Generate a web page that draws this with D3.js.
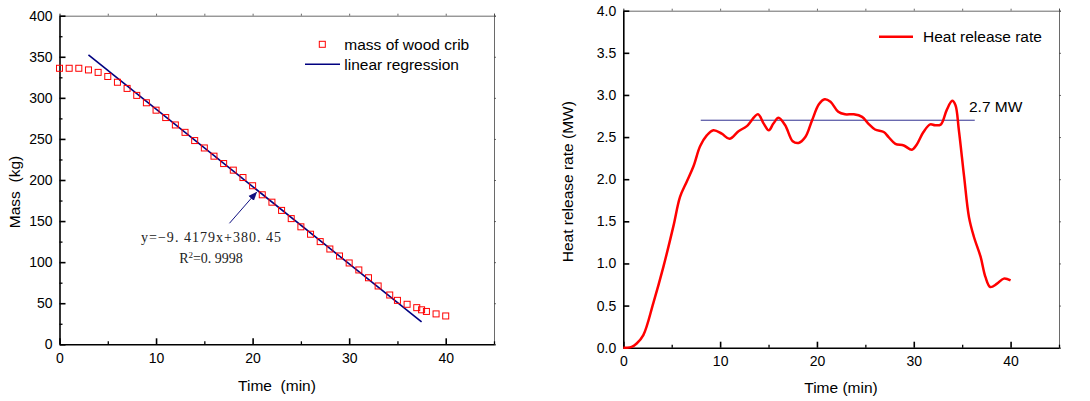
<!DOCTYPE html>
<html>
<head>
<meta charset="utf-8">
<script src="https://cdn.jsdelivr.net/npm/d3@7"></script>
<style>
    body { margin: 0; background: #fff; }
    svg { display: block; font-family: "Liberation Sans", Arial, sans-serif; }
    .axis text { font-size: 14px; fill: #000; }
</style>
</head>
<body>
<svg id="chart" width="1090" height="401"></svg>
<script>
'use strict';

// left chart: mass of wood crib
var massTime = [0, 1, 2, 3, 4, 5, 6, 7, 8, 9, 10, 11, 12, 13, 14, 15, 16, 17, 18, 19, 20,
    21, 22, 23, 24, 25, 26, 27, 28, 29, 30, 31, 32, 33, 34.2, 35, 36, 37, 37.5, 38, 39, 40];
var massValue = [336, 336, 336, 334, 331, 326, 319, 311.5, 303, 294, 285, 276, 267, 258, 248, 239, 229, 220, 212, 203, 193,
    182, 173, 163, 153, 143, 134, 125, 116, 107.5, 99, 90.5, 81, 71, 60, 53.5, 48.7, 44.6, 42, 40, 37, 34.5];
var regSlope = -9.4179;
var regIntercept = 380.45;
var regRange = [3, 37.5];
var arrowFrom = [17.6, 147.3];
var arrowTo = [20.4, 185];

// right chart: heat release rate
var hrrTime = [0, 0.35, 0.86, 1.38, 2.07, 3.1, 4.14, 5.17, 5.86, 6.55, 7.24, 7.93, 8.62, 9.31, 10.17, 10.97,
    11.9, 12.76, 13.9, 14.5, 15.03, 15.5, 16.03, 16.72, 17.5, 18.1, 18.8, 19.5, 20.2, 20.8, 21.4, 22.2,
    22.9, 23.8, 24.66, 25.3, 26.0, 26.9, 27.4, 28.1, 28.97, 29.8, 30.3, 31.0, 31.7, 32.2, 32.8, 33.4,
    33.97, 34.3, 34.66, 35.2, 35.7, 36.2, 36.9, 37.4, 37.9, 38.6, 39.3, 40];
var hrrValue = [0, 0, 0.01, 0.05, 0.15, 0.53, 0.96, 1.44, 1.79, 1.97, 2.15, 2.39, 2.52, 2.58, 2.54, 2.48,
    2.57, 2.63, 2.77, 2.66, 2.58, 2.66, 2.73, 2.64, 2.45, 2.43, 2.50, 2.70, 2.89, 2.95, 2.92, 2.80,
    2.77, 2.77, 2.74, 2.66, 2.59, 2.56, 2.50, 2.42, 2.40, 2.35, 2.41, 2.56, 2.65, 2.64, 2.65, 2.82,
    2.93, 2.88, 2.58, 2.03, 1.55, 1.32, 1.08, 0.84, 0.72, 0.76, 0.82, 0.80];
var avgHrr = 2.7;
var avgRange = [8, 36.3];

var svg = d3.select("#chart");

svg.append("defs").append("marker")
    .attr("id", "arrowHead")
    .attr("viewBox", "0 0 10 10")
    .attr("refX", 9).attr("refY", 5)
    .attr("markerWidth", 9).attr("markerHeight", 9)
    .attr("markerUnits", "userSpaceOnUse")
    .attr("orient", "auto")
    .append("path")
    .attr("d", "M0,1 L10,5 L0,9 Z")
    .attr("fill", "#101080");

function drawFrame(g, x, y, opts) {
    var x0 = x.range()[0], x1 = x.range()[1];
    var y0 = y.range()[0], y1 = y.range()[1];

    //thin top and right border with small outward ticks
    g.append("g")
        .attr("transform", "translate(0," + y1 + ")")
        .call(d3.axisTop(x).tickValues(opts.xMinor.concat(opts.xMajor)).tickSize(2).tickFormat(""))
        .call(function(a) { a.selectAll("line,path").attr("stroke", "#444").attr("stroke-width", 0.8); });
    g.append("g")
        .attr("transform", "translate(" + x1 + ",0)")
        .call(d3.axisRight(y).tickValues(opts.yMajor).tickSize(2).tickFormat(""))
        .call(function(a) { a.selectAll("line,path").attr("stroke", "#444").attr("stroke-width", 0.8); });

    //minor ticks
    g.append("g")
        .attr("transform", "translate(0," + y0 + ")")
        .call(d3.axisBottom(x).tickValues(opts.xMinor).tickSizeInner(-3).tickSizeOuter(0).tickFormat(""))
        .call(function(a) { a.select("path").remove(); a.selectAll("line").attr("stroke-width", 1.3); });
    if (opts.yMinor.length) {
        g.append("g")
            .attr("transform", "translate(" + x0 + ",0)")
            .call(d3.axisLeft(y).tickValues(opts.yMinor).tickSizeInner(-3).tickSizeOuter(0).tickFormat(""))
            .call(function(a) { a.select("path").remove(); a.selectAll("line").attr("stroke-width", 1.3); });
    }

    //major axes
    g.append("g")
        .attr("class", "axis")
        .attr("transform", "translate(0," + y0 + ")")
        .call(d3.axisBottom(x).tickValues(opts.xMajor).tickSizeInner(-6).tickSizeOuter(0)
            .tickPadding(opts.xPad).tickFormat(d3.format("d")))
        .call(function(a) { a.selectAll("line,path").attr("stroke-width", 1.6); });
    g.append("g")
        .attr("class", "axis")
        .attr("transform", "translate(" + x0 + ",0)")
        .call(d3.axisLeft(y).tickValues(opts.yMajor).tickSizeInner(-6).tickSizeOuter(0)
            .tickPadding(7).tickFormat(opts.yFormat))
        .call(function(a) { a.selectAll("line,path").attr("stroke-width", 1.6); });
}

// ---------- left chart ----------
var xMass = d3.scaleLinear().domain([0, 45]).range([59.5, 494]);
var yMass = d3.scaleLinear().domain([0, 400]).range([344.3, 15.7]);
var left = svg.append("g");

drawFrame(left, xMass, yMass, {
    xMajor: [0, 10, 20, 30, 40], xMinor: [5, 15, 25, 35, 45],
    yMajor: d3.range(0, 401, 50), yMinor: d3.range(25, 400, 50),
    yFormat: d3.format("d"), xPad: 9
});

//Append the regression line
left.append("line")
    .attr("x1", xMass(regRange[0])).attr("y1", yMass(regSlope * regRange[0] + regIntercept))
    .attr("x2", xMass(regRange[1])).attr("y2", yMass(regSlope * regRange[1] + regIntercept))
    .attr("stroke", "#000080")
    .attr("stroke-width", 1.6);

//Append the squares
left.selectAll(".massPoint")
    .data(massTime)
    .enter().append("rect")
    .attr("class", "massPoint")
    .attr("x", function(d) { return xMass(d) - 3; })
    .attr("y", function(d, i) { return yMass(massValue[i]) - 3; })
    .attr("width", 6)
    .attr("height", 6)
    .attr("fill", "none")
    .attr("stroke", "#ff0000")
    .attr("stroke-width", 1);

//Arrow and equation
left.append("line")
    .attr("x1", xMass(arrowFrom[0])).attr("y1", yMass(arrowFrom[1]))
    .attr("x2", xMass(arrowTo[0])).attr("y2", yMass(arrowTo[1]))
    .attr("stroke", "#101080")
    .attr("stroke-width", 1)
    .attr("marker-end", "url(#arrowHead)");

var eq = left.append("g")
    .style("font-family", "'Liberation Serif', 'DejaVu Serif', serif")
    .style("font-size", "14px")
    .attr("fill", "#222");
eq.append("text")
    .attr("x", 211).attr("y", 241.7)
    .attr("text-anchor", "middle")
    .attr("textLength", 140).attr("lengthAdjust", "spacing")
    .text("y=\u22129. 4179x+380. 45");
var r2 = eq.append("text")
    .attr("x", 211).attr("y", 263)
    .attr("text-anchor", "middle");
r2.append("tspan").text("R");
r2.append("tspan").attr("dy", -5).style("font-size", "9px").text("2");
r2.append("tspan").attr("dy", 5).text("=0. 9998");

//Legend
left.append("rect")
    .attr("x", 319.3).attr("y", 41.3).attr("width", 6).attr("height", 6)
    .attr("fill", "none").attr("stroke", "#ff0000");
left.append("text")
    .attr("x", 344.3).attr("y", 50)
    .style("font-size", "15.5px")
    .text("mass of wood crib");
left.append("line")
    .attr("x1", 305).attr("x2", 340).attr("y1", 64.3).attr("y2", 64.3)
    .attr("stroke", "#000080").attr("stroke-width", 1.6);
left.append("text")
    .attr("x", 344.3).attr("y", 69.5)
    .style("font-size", "15.5px")
    .text("linear regression");

//Axis titles
left.append("text")
    .attr("transform", "translate(19.5,192) rotate(-90)")
    .attr("text-anchor", "middle")
    .style("font-size", "15.5px")
    .style("white-space", "pre")
    .text("Mass\u00a0\u00a0(kg)");
left.append("text")
    .attr("x", 277).attr("y", 390.5)
    .attr("text-anchor", "middle")
    .style("font-size", "15.5px")
    .text("Time\u00a0\u00a0(min)");

// ---------- right chart ----------
var xHrr = d3.scaleLinear().domain([0, 45]).range([623.3, 1059]);
var yHrr = d3.scaleLinear().domain([0, 4]).range([347.7, 10.7]);
var right = svg.append("g");

drawFrame(right, xHrr, yHrr, {
    xMajor: [0, 10, 20, 30, 40], xMinor: [5, 15, 25, 35, 45],
    yMajor: d3.range(0, 4.01, 0.5), yMinor: [],
    yFormat: d3.format(".1f"), xPad: 8
});

//Average line
right.append("line")
    .attr("x1", xHrr(avgRange[0])).attr("x2", xHrr(avgRange[1]))
    .attr("y1", yHrr(avgHrr)).attr("y2", yHrr(avgHrr))
    .attr("stroke", "#303090")
    .attr("stroke-width", 1);

//Heat release rate curve
var hrrLine = d3.line()
    .x(function(d) { return xHrr(d); })
    .y(function(d, i) { return yHrr(hrrValue[i]); })
    .curve(d3.curveCatmullRom.alpha(0.5));

right.append("path")
    .datum(hrrTime)
    .attr("d", hrrLine)
    .attr("fill", "none")
    .attr("stroke", "#ff0000")
    .attr("stroke-width", 2.5)
    .attr("stroke-linejoin", "round");

right.append("text")
    .attr("x", 969).attr("y", 112.3)
    .style("font-size", "15.5px")
    .text("2.7 MW");

//Legend
right.append("line")
    .attr("x1", 879).attr("x2", 913).attr("y1", 36.7).attr("y2", 36.7)
    .attr("stroke", "#ff0000").attr("stroke-width", 2.5);
right.append("text")
    .attr("x", 923).attr("y", 41.7)
    .style("font-size", "15.5px")
    .text("Heat release rate");

//Axis titles
right.append("text")
    .attr("transform", "translate(573,181.7) rotate(-90)")
    .attr("text-anchor", "middle")
    .style("font-size", "15.5px")
    .text("Heat release rate (MW)");
right.append("text")
    .attr("x", 841).attr("y", 392.5)
    .attr("text-anchor", "middle")
    .style("font-size", "15.5px")
    .text("Time (min)");
</script>
</body>
</html>
